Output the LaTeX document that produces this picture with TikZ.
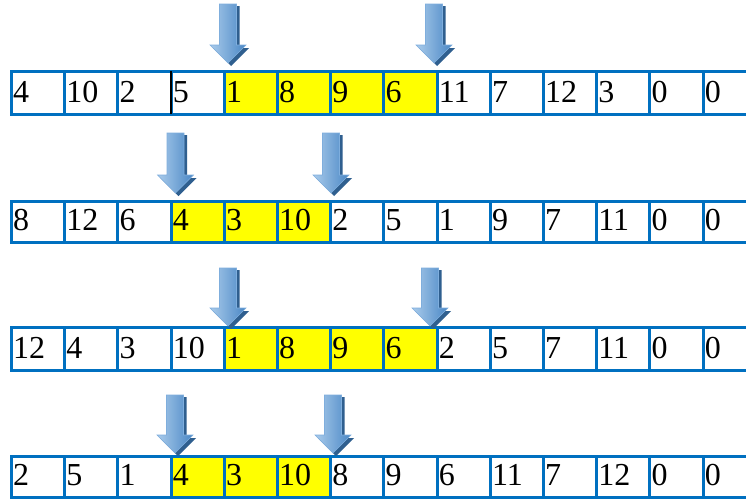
\documentclass[tikz,border=0pt]{standalone}
\usepackage{fontspec}
\setmainfont{Liberation Serif}
\definecolor{cellblue}{HTML}{0070C0}
\definecolor{cellyellow}{HTML}{FFFF00}
\definecolor{arrlight}{HTML}{A9CBEB}
\definecolor{arrdark}{HTML}{4A87C5}
\definecolor{arredge}{HTML}{7FAEDD}
\definecolor{arrshadow}{HTML}{2F5F8F}
\tikzset{
  x=1pt,y=-1pt,
  cellbox/.style={draw=cellblue,line width=3pt,anchor=north west,inner sep=0pt,
    minimum width=53.2pt,outer sep=0pt},
  hot/.style={fill=cellyellow},
  digit/.style={anchor=base west,inner sep=0pt,font=\fontsize{32}{32}\selectfont},
  arrbody/.style={left color=arrlight,right color=arrdark,draw=arredge,line width=0.6pt},
  arrshade/.style={fill=arrshadow},
}
\newcommand{\downarr}[3]{%
  \fill[arrshade] ({#1-8.5+3},{#2+2}) -- ({#1+8.5+3},{#2+2}) -- ({#1+8.5+3},{#3-18+3}) -- ({#1+18+3},{#3-18+3}) -- ({#1+3},{#3+3}) -- ({#1-18+3},{#3-18+3}) -- ({#1-8.5+3},{#3-18+3}) -- cycle;
  \path[arrbody] ({#1-8.5},{#2}) -- ({#1+8.5},{#2}) -- ({#1+8.5},{#3-18}) -- ({#1+18},{#3-18}) -- ({#1},{#3}) -- ({#1-18},{#3-18}) -- ({#1-8.5},{#3-18}) -- cycle;
}
% row: name, top, height, first hot index, last hot index, list of values
\newcommand{\cellrow}[6]{%
  \foreach \v [count=\i from 0] in {#6} {
    \pgfmathsetmacro{\xx}{11.5+53.2*\i}
    \pgfmathtruncatemacro{\ishot}{(\i>=#4)&&(\i<=#5)}
    \ifnum\ishot=1
      \node[cellbox,hot,minimum height=#3pt] (#1c\i) at (\xx,#2) {};
    \else
      \node[cellbox,minimum height=#3pt] (#1c\i) at (\xx,#2) {};
    \fi
    \node[digit] (#1t\i) at ({\xx+1.5},{#2+#3-11.5}) {\v};
  }
}
\begin{document}
\begin{tikzpicture}
\clip (0,0) rectangle (746,498);
\fill[white] (0,0) rectangle (746,498);
\cellrow{ra}{71}{43}{4}{7}{4,10,2,5,1,8,9,6,11,7,12,3,0,0}
\draw[black,line width=2pt] (rac3.north west) -- (rac3.south west);
\cellrow{rb}{201}{41}{3}{5}{8,12,6,4,3,10,2,5,1,9,7,11,0,0}
\cellrow{rc}{327}{43}{4}{7}{12,4,3,10,1,8,9,6,2,5,7,11,0,0}
\cellrow{rd}{456}{41}{3}{5}{2,5,1,4,3,10,8,9,6,11,7,12,0,0}
\downarr{228}{4}{63}
\downarr{434}{4}{63}
\downarr{175.5}{133}{193}
\downarr{331}{133}{193}
\downarr{228}{268}{326}
\downarr{430}{268}{326}
\downarr{175}{395}{453}
\downarr{333}{395}{453}
\end{tikzpicture}
\end{document}
